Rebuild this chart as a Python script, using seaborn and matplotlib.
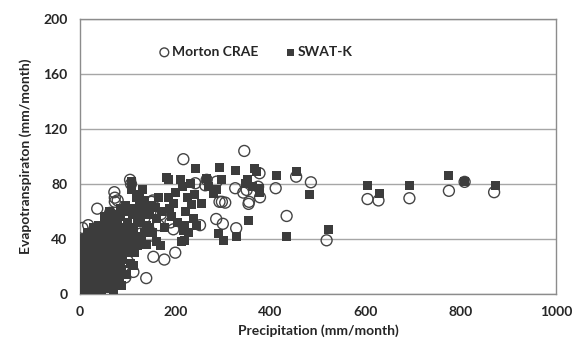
import matplotlib
matplotlib.use('Agg')
import matplotlib.pyplot as plt
import seaborn as sns
import pandas as pd

# ==================== Data ====================
# Morton CRAE - open circles
morton_p = [3, 6, 10, 12, 18, 22, 28, 8, 4, 16, 26, 34, 40, 45, 52, 58, 62, 68,
            74, 80, 86, 92, 95, 100, 112, 139, 91, 50, 38, 20, 17, 36, 63, 73,
            73, 79, 72, 105, 107, 150, 153, 165, 154, 177, 200, 25, 40, 60, 30,
            110, 120, 128, 135, 145, 170, 190, 196, 5,
            217, 242, 252, 263, 266, 286, 287, 293, 298, 300, 305, 326, 328, 343,
            345, 350, 354, 355, 374, 377, 378, 411, 434, 454, 485, 518,
            604, 627, 692, 775, 808, 870]
morton_et = [5, 10, 3, 18, 8, 24, 14, 26, 34, 38, 32, 20, 30, 12, 22, 34, 16, 26,
             36, 18, 28, 20, 12, 24, 16, 11.5, 20, 40, 46, 44, 50, 62, 59, 70,
             67, 68, 74, 83, 80, 67, 68, 50, 27, 25, 30, 2, 5, 6, 8,
             40, 48, 44, 55, 42, 58, 52, 47, 48,
             98, 80.5, 50, 79, 83, 54.5, 81.7, 67, 67, 51, 66.4, 76.9, 47.8, 73.7,
             104, 75.6, 65.5, 67, 78, 87.8, 70.3, 76.9, 56.7, 85.3, 81.2, 39,
             69, 68, 69.6, 75, 81.5, 74]

# SWAT-K - filled squares
swat_p = [2, 5, 3, 8, 12, 6, 10, 15, 18, 4, 9, 14, 20, 25, 22, 28, 30, 16, 8, 3,
          12, 20, 26, 32, 35, 38, 40, 42, 45, 48, 50, 52, 55, 58, 60, 62, 65, 68,
          70, 72, 75, 78, 80, 82, 85, 88, 90, 92, 95, 18, 24, 30, 36, 42, 10, 6,
          15, 28, 38, 50, 58, 65, 70, 78, 85, 92, 100, 98, 105, 110, 112, 115,
          120, 125, 118, 108, 100, 105, 112, 88, 78, 70, 55, 45, 35, 25, 15, 60,
          48, 32,
          5, 14, 22, 33, 44, 54, 64, 74, 84, 94, 30, 40, 52, 62, 76, 85, 95,
          4, 10, 20, 26, 34, 44, 54, 64, 74, 84, 92, 98, 86, 66, 56, 46, 36, 16,
          24, 30, 40, 50, 62, 72, 80, 88, 96, 102, 108, 115, 120, 125, 130, 135,
          140, 146, 128, 138, 142, 125, 118, 132,
          107, 109, 130, 135, 140, 145, 150, 152, 158, 160, 161, 168, 165, 172,
          178, 182, 186, 186, 188, 192, 196, 200, 205, 210, 213, 215, 217, 220,
          220, 222, 225, 228, 232, 235, 238, 240, 242, 245,
          256, 266, 270, 280, 287, 291, 293, 298, 301, 326, 329, 347, 351, 354,
          363, 366, 371, 378, 378, 413, 434, 455, 483, 521,
          604, 629, 692, 775, 808, 872]
swat_et = [2, 5, 10, 8, 4, 15, 12, 8, 14, 20, 22, 18, 20, 12, 6, 18, 25, 26, 28, 30,
           32, 30, 28, 32, 15, 22, 10, 28, 18, 35, 25, 12, 30, 20, 38, 8, 26, 35,
           16, 42, 30, 22, 40, 12, 33, 45, 25, 38, 48, 38, 40, 36, 42, 44, 36, 40,
           45, 48, 50, 46, 50, 52, 55, 50, 56, 60, 52, 40, 45, 58, 48, 62,
           55, 66, 40, 35, 30, 22, 21, 18, 8, 3, 4, 2, 5, 3, 1, 14,
           8, 10,
           25, 30, 35, 38, 40, 42, 44, 46, 48, 42, 45, 50, 56, 60, 58, 62, 64,
           8, 16, 4, 22, 28, 24, 36, 32, 24, 20, 30, 14, 6, 12, 8, 32, 34, 12,
           16, 2, 16, 18, 22, 10, 30, 38, 34, 40, 44, 30, 35, 42, 38, 45,
           36, 48, 52, 58, 64, 72, 70, 76,
           82, 76, 60, 68, 50, 58, 64, 45, 63, 55, 38, 35, 70, 60,
           48, 85, 83, 70, 62, 56, 66, 74, 52, 83, 38, 78, 46, 39,
           50, 60, 70, 45, 80, 65, 55, 72, 91, 50,
           66, 84, 78, 73, 75.6, 44, 92, 83.4, 39, 89.7, 41.7, 80.5, 83, 53.3,
           78.5, 91, 89, 77, 74, 86.5, 41.5, 89, 72.5, 46.5,
           78.8, 73, 78.8, 85.8, 81.5, 78.8]

x_ticks = [0, 200, 400, 600, 800, 1000]
y_ticks = [0, 40, 80, 120, 160, 200]

morton = pd.DataFrame({'p': morton_p, 'et': morton_et})
swat = pd.DataFrame({'p': swat_p, 'et': swat_et})

# ==================== Plot ====================
sns.set_style('white')
plt.rcParams['font.family'] = ['Lato', 'DejaVu Sans']

fig, ax = plt.subplots(figsize=(5.72, 3.58), dpi=100)
fig.subplots_adjust(left=0.140, right=0.972, top=0.947, bottom=0.179)

sns.scatterplot(data=morton, x='p', y='et', ax=ax, marker='o', s=62,
                facecolor='none', edgecolor='#444444', linewidth=1.0,
                label='Morton CRAE', zorder=3)
sns.scatterplot(data=swat, x='p', y='et', ax=ax, marker='s', s=42,
                color='#3c3c3c', edgecolor='none', linewidth=0,
                label='SWAT-K', zorder=4)

ax.set_xlim(0, 1000)
ax.set_ylim(0, 200)
ax.set_xticks(x_ticks)
ax.set_yticks(y_ticks)
ax.yaxis.grid(True, color='#a6a6a6', linewidth=1.0)
ax.set_axisbelow(True)
for sp in ax.spines.values():
    sp.set_color('#8c8c8c')
    sp.set_linewidth(1.0)
ax.tick_params(axis='both', direction='out', length=5, width=1,
               color='#8c8c8c', labelsize=10, pad=4)
for lbl in ax.get_xticklabels() + ax.get_yticklabels():
    lbl.set_fontweight('bold')

ax.set_xlabel('Precipitation (mm/month)', fontsize=10, fontweight='bold', labelpad=4)
ax.set_ylabel('Evapotranspiraton (mm/month)', fontsize=10, fontweight='bold', labelpad=8)

leg = ax.legend(loc='center left', bbox_to_anchor=(0.142, 0.88), ncol=2,
                frameon=False, handlelength=0.6, handletextpad=0.25,
                columnspacing=2.0, markerscale=0.8,
                prop={'weight': 'bold', 'size': 10})

fig.savefig('out.png', dpi=100)
